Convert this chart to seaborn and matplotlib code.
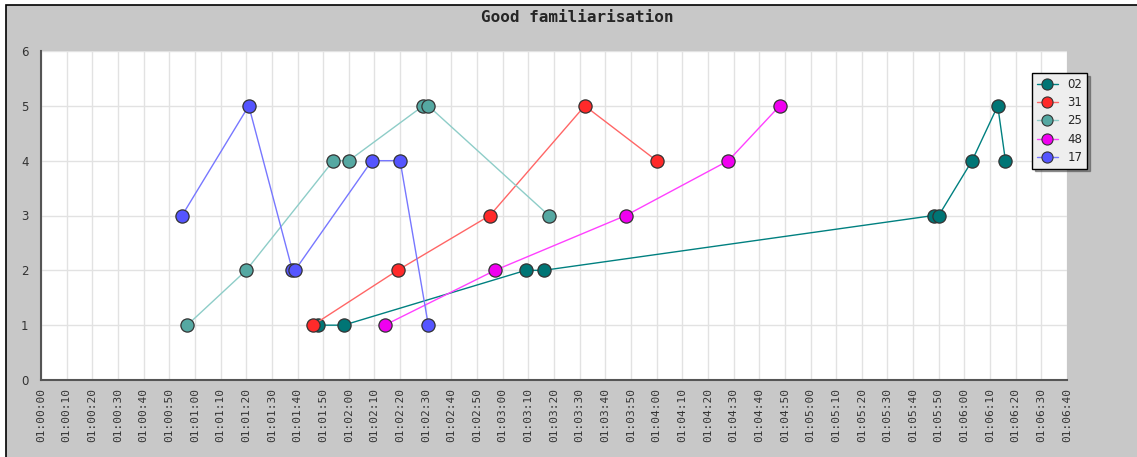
import pandas as pd
import seaborn as sns
import matplotlib.pyplot as plt
from matplotlib.patches import Rectangle
from matplotlib.lines import Line2D

# data (time of day, score)
series_names = ['02', '31', '25', '48', '17']

t_02 = ['01:01:48', '01:01:58', '01:03:09', '01:03:16', '01:05:48', '01:05:50', '01:06:03', '01:06:13', '01:06:16']
v_02 = [1, 1, 2, 2, 3, 3, 4, 5, 4]

t_31 = ['01:01:46', '01:02:19', '01:02:55', '01:03:32', '01:04:00']
v_31 = [1, 2, 3, 5, 4]

t_25 = ['01:00:57', '01:01:20', '01:01:54', '01:02:00', '01:02:29', '01:02:31', '01:03:18']
v_25 = [1, 2, 4, 4, 5, 5, 3]

t_48 = ['01:02:14', '01:02:57', '01:03:48', '01:04:28', '01:04:48']
v_48 = [1, 2, 3, 4, 5]

t_17 = ['01:00:55', '01:01:21', '01:01:38', '01:01:39', '01:02:09', '01:02:20', '01:02:31']
v_17 = [3, 5, 2, 2, 4, 4, 1]

times = [t_02, t_31, t_25, t_48, t_17]
values = [v_02, v_31, v_25, v_48, v_17]

line_colors = ['#008080', '#ff6666', '#8ecdc8', '#ff40ff', '#7777ff']
face_colors = ['#007575', '#ff2a2a', '#55a8a2', '#f000f0', '#5555ff']

start = pd.to_timedelta('01:00:00')

frames = []
for name, t, v in zip(series_names, times, values):
    secs = (pd.to_timedelta(t) - start).total_seconds()
    frames.append(pd.DataFrame({'series': name, 'sec': secs, 'score': v}))
df = pd.concat(frames, ignore_index=True)

sns.set_style('white')
plt.rcParams['font.family'] = ['DejaVu Sans']

fig = plt.figure(figsize=(11.37, 4.57), dpi=100)
fig.patch.set_facecolor('white')
fig.patches.append(Rectangle((6 / 1137, -0.01), 1.02, 1 - 5 / 457 + 0.01, transform=fig.transFigure,
                             facecolor='#c8c8c8', edgecolor='black', linewidth=1.2, zorder=-10))

ax = fig.add_axes([41 / 1137, 1 - 380 / 457, (1067 - 41) / 1137, (380 - 51) / 457])
ax.set_facecolor('white')

for i, name in enumerate(series_names):
    sub = df[df['series'] == name]
    sns.lineplot(data=sub, x='sec', y='score', ax=ax, sort=False, estimator=None,
                 color=line_colors[i], linewidth=1, marker='o', markersize=9.5,
                 markerfacecolor=face_colors[i], markeredgecolor='#333333',
                 markeredgewidth=0.9, zorder=3 + i)

ax.set_xlim(0, 400)
ax.set_ylim(0, 6)
xt = list(range(0, 401, 10))
ax.set_xticks(xt)
ax.set_xticklabels(['01:%02d:%02d' % (s // 60, s % 60) for s in xt], rotation=90,
                   fontsize=8, family='DejaVu Sans Mono', color='#333333')
ax.set_xticks(range(5, 400, 10), minor=True)
ax.set_yticks(range(0, 7))
ax.set_yticklabels([str(i) for i in range(0, 7)], fontsize=8.5, color='#333333')
ax.tick_params(axis='both', which='both', direction='in', color='#555555', width=1)
ax.tick_params(axis='x', which='major', length=5, pad=6)
ax.tick_params(axis='x', which='minor', length=3)
ax.tick_params(axis='y', which='major', length=5, pad=9)
ax.grid(True, color='#e2e2e2', linewidth=1)
ax.set_axisbelow(True)
ax.set_xlabel('')
ax.set_ylabel('')
for side in ['top', 'right']:
    ax.spines[side].set_visible(False)
for side in ['left', 'bottom']:
    ax.spines[side].set_color('#555555')
    ax.spines[side].set_linewidth(1.5)

fig.text(577 / 1137, 1 - 18 / 457, 'Good familiarisation', ha='center', va='center',
         fontsize=11.5, fontweight='bold', family='DejaVu Sans Mono')

handles = [Line2D([], [], color=line_colors[i], linewidth=1, marker='o', markersize=8,
                  markerfacecolor=face_colors[i], markeredgecolor='#333333', markeredgewidth=0.8)
           for i in range(len(series_names))]
leg = fig.legend(handles, series_names, loc='upper left',
                 bbox_to_anchor=(1032 / 1137, 1 - 73 / 457), borderaxespad=0, fontsize=8.5,
                 frameon=True, fancybox=False, shadow=True, handlelength=1.8,
                 labelspacing=0.45, borderpad=0.4, handletextpad=0.8)
leg.get_frame().set_edgecolor('black')
leg.get_frame().set_facecolor('#eeeeee')
leg.get_frame().set_alpha(1)

fig.savefig('out.png', dpi=100)
